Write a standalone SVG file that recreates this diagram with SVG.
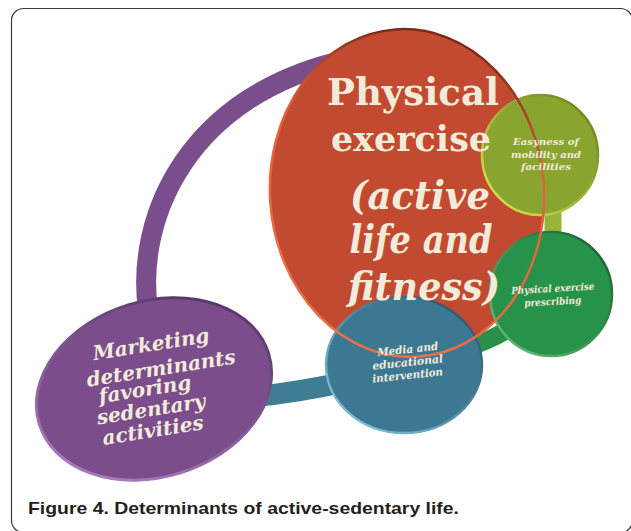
<svg xmlns="http://www.w3.org/2000/svg" width="631" height="531" viewBox="0 0 631 531">
<defs>
<style>
.lbl{font-family:'DejaVu Serif','Liberation Serif',serif;font-weight:bold;fill:#f2ebda;text-anchor:middle}
.it{font-style:italic}
.band{fill:none;stroke-linecap:butt}
.cap{font-family:'Liberation Sans',Arial,sans-serif;font-weight:bold;fill:#231f20}
</style>
<linearGradient id="rimPurple" x1="1" y1="0" x2="0" y2="1"><stop offset="0" stop-color="#4a2a5a"/><stop offset="1" stop-color="#b48ac8"/></linearGradient>
<linearGradient id="rimYG" x1="1" y1="0" x2="0" y2="1"><stop offset="0" stop-color="#5f7a1c"/><stop offset="1" stop-color="#e2ea55"/></linearGradient>
<linearGradient id="rimG" x1="1" y1="0" x2="0" y2="1"><stop offset="0" stop-color="#145a2a"/><stop offset="1" stop-color="#6cc27f"/></linearGradient>
<linearGradient id="rimB" x1="1" y1="0" x2="0" y2="1"><stop offset="0" stop-color="#1f4a5c"/><stop offset="1" stop-color="#8fd0e6"/></linearGradient>
<linearGradient id="rimR" x1="0.5" y1="0" x2="0.2" y2="1"><stop offset="0" stop-color="#7a2a18"/><stop offset="0.3" stop-color="#e2603b"/><stop offset="1" stop-color="#f07048"/></linearGradient>
<ellipse id="redShape" cx="407" cy="193" rx="137" ry="164" transform="rotate(-4 407 193)"/>
</defs>
<rect x="11.5" y="8.5" width="621" height="524" rx="12" fill="#fff" stroke="#3a3a3a" stroke-width="1.2"/>

<g id="connectors">
<path class="band" d="M148 310 C135 215 190 95 345 60" stroke="#7a4e8c" stroke-width="20"/>
<path class="band" d="M240 398 Q290 394 345 382" stroke="#3f7d94" stroke-width="21"/>
<path class="band" d="M553 205 L553 240" stroke="#98b53a" stroke-width="17"/>
<path class="band" d="M520 320 Q500 338 460 350" stroke="#2a8f48" stroke-width="18"/>
</g>

<g id="node-physical-exercise">
<use href="#redShape" fill="#c14a30"/>
</g>

<g id="node-marketing">
<ellipse cx="154" cy="389" rx="120" ry="88" transform="rotate(-17 154 389)" fill="#7b4d8c" stroke="url(#rimPurple)" stroke-width="3"/>
<text class="lbl it" font-size="20" x="152" y="351" transform="rotate(-9 152 351)">Marketing</text>
<text class="lbl it" font-size="20" x="162" y="375" transform="rotate(-9 162 375)">determinants</text>
<text class="lbl it" font-size="20" x="146" y="396" transform="rotate(-9 146 396)">favoring</text>
<text class="lbl it" font-size="20" x="152" y="416" transform="rotate(-9 152 416)">sedentary</text>
<text class="lbl it" font-size="20" x="154" y="437" transform="rotate(-9 154 437)">activities</text>
</g>

<g id="node-easyness">
<ellipse cx="540" cy="155" rx="58" ry="60" fill="#8aa52f" stroke="url(#rimYG)" stroke-width="2.5"/>
</g>

<g id="node-prescribing">
<ellipse cx="551" cy="294" rx="61" ry="62" fill="#27934a" stroke="url(#rimG)" stroke-width="2.5"/>
</g>

<g id="node-media">
<ellipse cx="404" cy="365" rx="78" ry="68" fill="#3d7893" stroke="url(#rimB)" stroke-width="2.5"/>
</g>

<g id="node-physical-exercise-label">
<use href="#redShape" fill="none" stroke="url(#rimR)" stroke-width="2.5"/>
<text class="lbl" font-size="38" x="413" y="105" textLength="172" lengthAdjust="spacingAndGlyphs">Physical</text>
<text class="lbl" font-size="36" x="411" y="151" textLength="160" lengthAdjust="spacingAndGlyphs">exercise</text>
<text class="lbl it" font-size="40" x="420" y="209" textLength="140" lengthAdjust="spacingAndGlyphs">(active</text>
<text class="lbl it" font-size="40" x="421" y="253" textLength="143" lengthAdjust="spacingAndGlyphs">life and</text>
<text class="lbl it" font-size="40" x="424" y="300" textLength="152" lengthAdjust="spacingAndGlyphs">fitness)</text>
</g>

<g id="labels-small">
<text class="lbl it" font-size="9.5" x="546" y="145" textLength="66" lengthAdjust="spacingAndGlyphs">Easyness of</text>
<text class="lbl it" font-size="9.5" x="546" y="157.5" textLength="70" lengthAdjust="spacingAndGlyphs">mobility and</text>
<text class="lbl it" font-size="9.5" x="546" y="170" textLength="50" lengthAdjust="spacingAndGlyphs">facilities</text>
<text class="lbl it" font-size="10" x="553" y="292" textLength="83" lengthAdjust="spacingAndGlyphs" transform="rotate(-3 553 292)">Physical exercise</text>
<text class="lbl it" font-size="10" x="553" y="305" textLength="57" lengthAdjust="spacingAndGlyphs" transform="rotate(-3 553 305)">prescribing</text>
<text class="lbl it" font-size="11" x="408" y="353" textLength="61" lengthAdjust="spacingAndGlyphs" transform="rotate(-6 408 353)">Media and</text>
<text class="lbl it" font-size="11" x="408" y="366" textLength="71" lengthAdjust="spacingAndGlyphs" transform="rotate(-6 408 366)">educational</text>
<text class="lbl it" font-size="11" x="408" y="379" textLength="71" lengthAdjust="spacingAndGlyphs" transform="rotate(-6 408 379)">intervention</text>
</g>

<text class="cap" font-size="17" x="28" y="514" textLength="431" lengthAdjust="spacingAndGlyphs">Figure 4. Determinants of active-sedentary life.</text>
</svg>
